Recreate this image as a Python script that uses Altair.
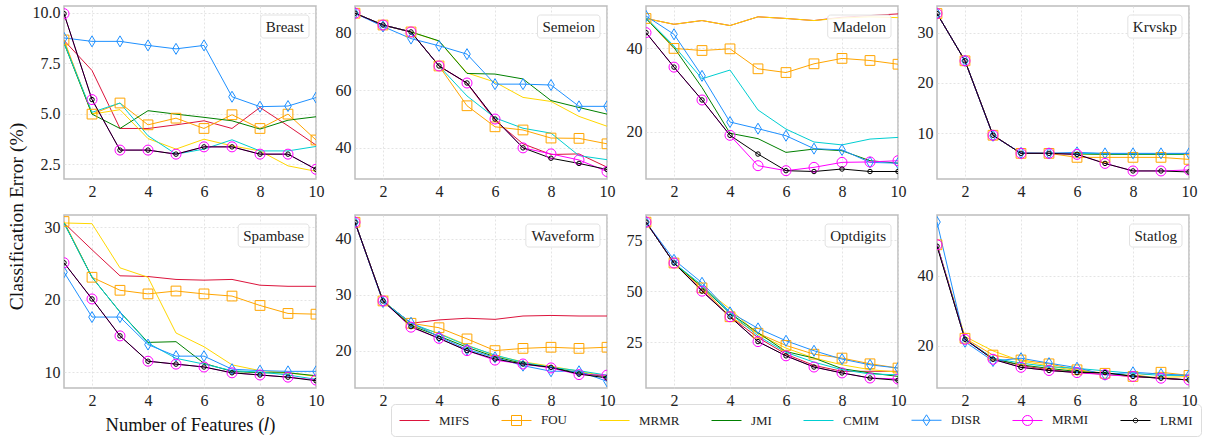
import altair as alt
import pandas as pd

methods = ["MIFS", "FOU", "MRMR", "JMI", "CMIM", "DISR", "MRMI", "LRMI"]
colors = ["#DC143C", "#FFA500", "#FFD700", "#008000", "#00CED1", "#1E90FF", "#FF00FF", "#000000"]
features = [1, 2, 3, 4, 5, 6, 7, 8, 9, 10]

breast = {
    "MIFS": [8.63, 7.14, 4.27, 4.27, 4.45, 4.65, 4.27, 5.31, 4.4, 3.45],
    "FOU": [8.65, 4.98, 5.53, 4.45, 4.78, 4.27, 4.95, 4.27, 4.98, 3.7],
    "MRMR": [8.55, 4.98, 5.2, 3.77, 3.25, 3.74, 3.41, 3.16, 2.42, 2.15],
    "JMI": [8.5, 4.98, 4.27, 5.15, 4.98, 4.82, 4.65, 4.24, 4.68, 4.85],
    "CMIM": [8.5, 5.07, 5.53, 3.91, 3.0, 3.25, 3.71, 3.16, 3.16, 3.38],
    "DISR": [8.75, 8.58, 8.58, 8.38, 8.21, 8.38, 5.84, 5.35, 5.38, 5.8],
    "MRMI": [9.95, 5.7, 3.2, 3.2, 3.0, 3.36, 3.36, 3.0, 3.0, 2.25],
    "LRMI": [9.95, 5.7, 3.2, 3.2, 3.0, 3.36, 3.36, 3.0, 3.0, 2.25],
}
semeion = {
    "MIFS": [86.7, 82.6, 80.2, 68.4, 62.4, 49.5, 41.4, 37.7, 37.9, 33.3],
    "FOU": [86.7, 82.6, 80.2, 68.4, 54.6, 47.3, 46.2, 43.4, 43.3, 41.4],
    "MRMR": [86.7, 82.6, 80.2, 77.0, 66.0, 62.8, 57.5, 56.1, 50.9, 47.5],
    "JMI": [86.7, 82.6, 80.2, 77.1, 65.8, 65.6, 63.9, 56.4, 54.0, 51.7],
    "CMIM": [86.7, 82.6, 80.2, 68.4, 58.0, 50.4, 46.8, 45.1, 37.3, 35.9],
    "DISR": [86.7, 82.1, 77.9, 75.4, 72.5, 62.1, 62.1, 61.8, 54.4, 54.4],
    "MRMI": [86.7, 82.6, 80.2, 68.4, 62.5, 50.0, 40.0, 37.9, 35.8, 31.8],
    "LRMI": [86.7, 82.6, 80.2, 68.4, 62.5, 50.0, 40.0, 36.4, 34.6, 32.5],
}
madelon = {
    "MIFS": [47.2, 45.8, 46.7, 45.5, 47.6, 47.2, 46.7, 47.5, 47.9, 48.3],
    "FOU": [47.2, 40.0, 39.5, 39.9, 35.1, 34.2, 36.3, 37.6, 37.1, 36.2],
    "MRMR": [47.2, 45.8, 46.7, 45.5, 47.6, 47.2, 46.7, 47.3, 47.6, 47.4],
    "JMI": [47.2, 40.2, 30.6, 19.6, 18.3, 15.0, 15.8, 15.4, 13.0, 12.4],
    "CMIM": [47.4, 40.6, 32.7, 34.8, 25.2, 20.6, 17.5, 16.8, 18.2, 18.6],
    "DISR": [47.8, 43.4, 33.4, 22.3, 20.7, 19.0, 15.9, 15.6, 12.6, 12.4],
    "MRMI": [43.8, 35.5, 27.6, 19.1, 11.8, 10.6, 11.4, 12.6, 12.7, 13.0],
    "LRMI": [43.8, 35.5, 27.6, 19.1, 14.6, 10.6, 10.4, 11.0, 10.4, 10.4],
}
krvskp = {
    "MIFS": [33.8, 24.4, 9.6, 6.0, 6.0, 6.0, 5.9, 5.9, 5.9, 6.0],
    "FOU": [33.8, 24.4, 9.6, 6.0, 6.0, 5.2, 5.2, 5.2, 5.2, 4.8],
    "MRMR": [33.8, 24.4, 9.6, 6.0, 6.0, 5.9, 5.8, 5.8, 5.8, 5.8],
    "JMI": [33.8, 24.4, 9.6, 6.0, 6.0, 5.9, 5.8, 5.8, 5.8, 5.8],
    "CMIM": [33.8, 24.4, 9.6, 6.0, 6.0, 6.0, 5.9, 5.9, 5.9, 5.9],
    "DISR": [33.8, 24.4, 9.5, 6.1, 6.0, 6.2, 6.0, 6.0, 6.0, 6.0],
    "MRMI": [33.8, 24.4, 9.6, 6.0, 6.0, 5.8, 4.0, 2.5, 2.5, 2.7],
    "LRMI": [33.8, 24.4, 9.6, 6.0, 6.0, 5.8, 4.0, 2.5, 2.5, 2.3],
}
spambase = {
    "MIFS": [30.6, 26.9, 23.3, 23.2, 22.8, 22.7, 22.8, 22.0, 21.85, 21.85],
    "FOU": [30.8, 23.1, 21.3, 20.8, 21.2, 20.8, 20.5, 19.2, 18.1, 18.0],
    "MRMR": [30.6, 30.5, 24.4, 23.1, 15.4, 13.5, 11.0, 10.2, 9.9, 9.4],
    "JMI": [30.6, 23.1, 18.3, 14.1, 14.2, 11.2, 10.1, 9.9, 9.9, 9.5],
    "CMIM": [30.6, 23.1, 18.3, 14.0, 11.9, 11.1, 10.2, 10.0, 9.6, 9.0],
    "DISR": [23.8, 17.6, 17.6, 13.8, 12.2, 12.2, 10.4, 10.2, 10.1, 10.1],
    "MRMI": [25.1, 20.1, 15.0, 11.5, 11.1, 10.7, 9.9, 9.6, 9.3, 8.9],
    "LRMI": [25.1, 20.1, 15.0, 11.5, 11.1, 10.7, 9.9, 9.6, 9.3, 8.8],
}
waveform = {
    "MIFS": [43.0, 28.9, 24.9, 25.5, 25.8, 25.6, 26.2, 26.3, 26.2, 26.2],
    "FOU": [43.0, 28.9, 24.9, 24.1, 22.1, 20.0, 20.4, 20.6, 20.4, 20.6],
    "MRMR": [43.0, 28.9, 24.6, 23.1, 21.0, 19.1, 18.0, 17.2, 16.3, 15.4],
    "JMI": [43.0, 28.9, 24.5, 22.6, 20.6, 18.9, 17.7, 17.0, 16.0, 15.3],
    "CMIM": [43.0, 28.9, 24.9, 23.0, 20.9, 19.2, 17.9, 17.0, 16.4, 15.6],
    "DISR": [43.0, 28.7, 25.0, 22.5, 20.2, 18.8, 17.3, 16.3, 16.3, 14.5],
    "MRMI": [43.0, 28.9, 24.2, 22.2, 20.0, 18.3, 17.6, 16.9, 15.7, 15.6],
    "LRMI": [43.0, 28.9, 24.3, 22.2, 20.0, 18.5, 17.6, 17.0, 15.8, 15.1],
}
optdigits = {
    "MIFS": [84.0, 63.9, 50.6, 37.5, 27.3, 19.1, 13.6, 10.7, 10.7, 10.7],
    "FOU": [84.0, 63.9, 51.7, 37.5, 29.4, 23.4, 19.1, 17.2, 14.4, 12.3],
    "MRMR": [84.0, 63.9, 52.2, 41.3, 28.9, 22.1, 17.2, 13.9, 11.5, 10.3],
    "JMI": [84.0, 63.9, 52.2, 39.2, 29.7, 20.4, 17.2, 12.0, 9.9, 8.2],
    "CMIM": [84.0, 63.9, 53.0, 39.2, 28.1, 20.0, 15.2, 11.5, 9.4, 9.0],
    "DISR": [84.0, 65.5, 54.2, 39.7, 31.8, 25.7, 20.8, 16.7, 13.9, 12.3],
    "MRMI": [84.0, 63.9, 50.1, 37.5, 25.3, 18.3, 12.8, 9.9, 7.4, 6.9],
    "LRMI": [84.0, 63.9, 50.1, 37.5, 25.3, 18.3, 12.8, 9.9, 7.4, 6.3],
}
statlog = {
    "MIFS": [48.9, 21.9, 16.5, 14.4, 13.2, 12.5, 11.9, 11.3, 10.8, 10.3],
    "FOU": [48.9, 22.2, 17.4, 16.0, 14.9, 13.2, 12.2, 11.3, 12.5, 11.6],
    "MRMR": [48.9, 22.7, 18.6, 15.7, 14.3, 12.9, 12.0, 11.3, 11.0, 11.3],
    "JMI": [48.9, 21.9, 16.3, 14.6, 13.6, 12.7, 12.2, 11.5, 10.8, 10.3],
    "CMIM": [48.9, 21.9, 16.5, 15.1, 14.1, 13.6, 12.9, 12.2, 11.6, 11.6],
    "DISR": [55.4, 21.2, 15.7, 16.5, 15.1, 13.8, 11.8, 12.5, 12.0, 11.6],
    "MRMI": [48.9, 21.9, 16.2, 13.9, 13.0, 12.4, 11.8, 11.3, 10.8, 10.3],
    "LRMI": [48.5, 21.9, 16.2, 13.9, 13.0, 12.4, 12.4, 11.3, 10.8, 10.3],
}

# panel settings: name, data, y-domain, y-ticks, tick format
panels = [
    ("Breast", breast, [1.77, 10.33], [2.5, 5.0, 7.5, 10.0], ".1f"),
    ("Semeion", semeion, [29.2, 89.2], [40, 60, 80], "d"),
    ("Madelon", madelon, [8.6, 50.2], [20, 40], "d"),
    ("Krvskp", krvskp, [0.9, 35.3], [10, 20, 30], "d"),
    ("Spambase", spambase, [7.8, 31.7], [10, 20, 30], "d"),
    ("Waveform", waveform, [13.3, 44.3], [20, 30, 40], "d"),
    ("Optdigits", optdigits, [2.5, 87.5], [25, 50, 75], "d"),
    ("Statlog", statlog, [8.0, 57.4], [20, 40], "d"),
]

FONT = "Liberation Serif"
W, H = 252, 173
cmap = dict(zip(methods, colors))

# legend handles: a line with the marker in its middle
legend_shapes = [
    "M-1,0L3,0",
    "M-1,0L3,0M0.333,-0.667L1.667,-0.667L1.667,0.667L0.333,0.667Z",
    "M-1,0L3,0",
    "M-1,0L3,0",
    "M-1,0L3,0",
    "M-1,0L3,0M1,-0.73L1.47,0L1,0.73L0.53,0Z",
    "M-1,0L3,0M1.667,0A0.667,0.667,0,1,1,0.333,0A0.667,0.667,0,1,1,1.667,0Z",
    "M-1,0L3,0M1.3,0A0.3,0.3,0,1,1,0.7,0A0.3,0.3,0,1,1,1.3,0Z",
]
thin_diamond = "M0,-1L0.6,0L0,1L-0.6,0Z"

char_w = {'B': .667, 'r': .333, 'e': .444, 'a': .444, 's': .389, 't': .278, 'S': .556,
          'm': .778, 'i': .278, 'o': .5, 'n': .5, 'M': .889, 'd': .5, 'l': .278,
          'K': .722, 'v': .5, 'k': .5, 'p': .5, 'b': .5, 'W': .944, 'f': .333,
          'O': .722, 'g': .5, 'L': .611}


def text_width(s, size):
    return sum(char_w.get(c, 0.5) for c in s) * size


def make_panel(idx, name, data, ydom, yticks, fmt):
    rows = []
    for m in methods:
        for l, v in zip(features, data[m]):
            rows.append({"method": m, "l": l, "err": v})
    df = pd.DataFrame(rows)

    xtitle = "Number of Features (𝑙)" if idx == 4 else None
    xaxis = alt.Axis(values=[2, 4, 6, 8, 10], title=xtitle, labelFlush=False,
                     titlePadding=7, titleFontSize=18.5)
    if idx == 0:
        yaxis = alt.Axis(values=yticks, format=fmt, title="Classification Error (%)",
                         titleX=-48, titleY=210, titleAngle=270, titleAlign="center",
                         titleBaseline="middle", titleFontSize=19.5)
    else:
        yaxis = alt.Axis(values=yticks, format=fmt, title=None)

    xs = alt.Scale(domain=[1, 10], nice=False, zero=False)
    ys = alt.Scale(domain=ydom, nice=False, zero=False)
    X = alt.X("l:Q", scale=xs, axis=xaxis)
    Y = alt.Y("err:Q", scale=ys, axis=yaxis)

    base = alt.Chart(df)
    layers = [
        base.mark_line(strokeWidth=1, clip=True).encode(
            x=X, y=Y,
            color=alt.Color("method:N", scale=alt.Scale(domain=methods, range=colors),
                            legend=None),
        )
    ]
    marker_specs = [("FOU", "square", 95), ("DISR", thin_diamond, 121),
                    ("MRMI", "circle", 100), ("LRMI", "circle", 20)]
    for m, shp, sz in marker_specs:
        layers.append(
            base.transform_filter(alt.datum.method == m).mark_point(
                shape=shp, size=sz, filled=False, strokeWidth=1, opacity=1,
                color=cmap[m], clip=True
            ).encode(x=X, y=Y)
        )

    if idx == 4:
        leg_df = pd.DataFrame({"method": methods, "l": [5] * 8, "err": [-100] * 8})
        leg = alt.Legend(title=None, orient="none", legendX=327, legendY=189,
                         direction="horizontal", columns=8, columnPadding=29,
                         symbolSize=225, symbolStrokeWidth=1, labelOffset=24,
                         labelFont=FONT, labelFontSize=13, labelColor="#222222",
                         padding=8, strokeColor="#dddddd", fillColor="white",
                         cornerRadius=4, symbolFillColor="transparent")
        layers.append(
            alt.Chart(leg_df).mark_point(filled=False, opacity=1, strokeWidth=1, clip=True).encode(
                x=alt.X("l:Q", scale=xs), y=alt.Y("err:Q", scale=ys),
                stroke=alt.Stroke("method:N", scale=alt.Scale(domain=methods, range=colors),
                                  legend=leg),
                shape=alt.Shape("method:N", scale=alt.Scale(domain=methods, range=legend_shapes),
                                legend=leg),
            )
        )

    # dataset label box
    tw = text_width(name, 15)
    bw = tw + 10
    lab = pd.DataFrame({"name": [name]})
    layers.append(
        alt.Chart(lab).mark_rect(fill="white", fillOpacity=0.85, stroke="#e2e2e2",
                                 strokeWidth=1, cornerRadius=3).encode(
            x=alt.value(W - 7 - bw), x2=alt.value(W - 7),
            y=alt.value(9), y2=alt.value(32))
    )
    layers.append(
        alt.Chart(lab).mark_text(font=FONT, fontSize=15, color="#222222").encode(
            x=alt.value(W - 7 - bw / 2), y=alt.value(20.5), text="name:N")
    )
    return alt.layer(*layers).properties(width=W, height=H)


charts = [make_panel(i, *p) for i, p in enumerate(panels)]
chart = alt.concat(
    *charts, columns=4, spacing={"row": 36, "column": 39}, bounds="flush"
).resolve_legend(
    stroke="independent", shape="independent"
).properties(
    padding={"left": 5, "top": 3, "right": 0, "bottom": 3}
).configure_view(
    stroke="#bdbdbd", strokeWidth=1.5
).configure_axis(
    grid=True, gridColor="#dddddd", gridDash=[2, 2], gridWidth=0.8,
    domain=False, ticks=False, labelFont=FONT, labelFontSize=16,
    labelColor="#222222", labelPadding=4, titleFont=FONT, titleFontSize=18,
    titleFontWeight="normal", titleColor="#111111"
)

chart.save("out.html", embed_options={"renderer": "svg", "actions": False})
